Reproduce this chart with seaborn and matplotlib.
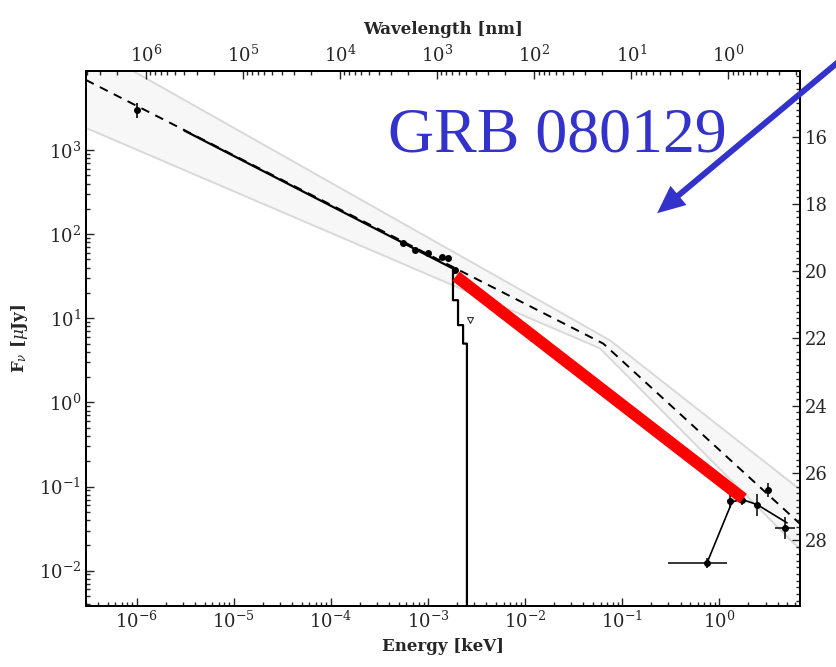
import numpy as np
import matplotlib
matplotlib.use("Agg")
import matplotlib.pyplot as plt
import seaborn as sns
from matplotlib.patches import FancyArrowPatch
from matplotlib.ticker import LogLocator, FixedLocator, NullFormatter, FuncFormatter

# ---------------- data ----------------
x_lim = [3.0e-7, 6.8]          # energy range [keV]
y_lim = [3.8e-3, 8.7e3]        # flux range [uJy]
hc_keV_nm = 1.2398             # wavelength[nm] = hc / E[keV]

model_E = [3.0e-7, 6.4e-2, 6.8]
model_F = [6800.0, 5.0, 0.036]

band_hi_E = [3.0e-7, 7.5e-2, 6.8]
band_hi_F = [18000.0, 5.47, 0.092]
band_lo_E = [3.0e-7, 5.9e-2, 6.8]
band_lo_F = [1830.0, 4.4, 0.0178]

absorbed_E = [3.1e-6, 1.81e-3, 1.81e-3, 2.04e-3, 2.04e-3, 2.3e-3, 2.3e-3, 2.52e-3, 2.52e-3]
absorbed_F = [1700.0, 39.0, 16.4, 16.4, 8.3, 8.3, 5.0, 5.0, 1.0e-3]

radio_E = [1.0e-6]
radio_F = [3000.0]
radio_Ferr_lo = [600.0]
radio_Ferr_hi = [650.0]

opt_E = [5.5e-4, 7.3e-4, 1.0e-3, 1.39e-3, 1.6e-3, 1.9e-3]
opt_F = [78.0, 65.0, 59.0, 53.0, 52.0, 37.0]
opt_Ferr = [5.0, 4.0, 4.0, 3.5, 3.5, 3.0]

ul_E = [2.7e-3]
ul_F = [9.5]

xr_E = [0.75, 1.3, 1.73, 2.46, 3.2, 4.8]
xr_E_lo = [0.30, 1.2, 1.6, 2.3, 3.0, 3.8]
xr_E_hi = [1.21, 1.4, 1.85, 2.65, 3.4, 6.1]
xr_F = [0.0124, 0.068, 0.070, 0.061, 0.090, 0.0325]
xr_F_lo = [0.0108, 0.055, 0.060, 0.045, 0.075, 0.024]
xr_F_hi = [0.0142, 0.085, 0.082, 0.082, 0.110, 0.043]

xmodel_E = [0.75, 1.36, 1.73, 2.46, 5.0]
xmodel_F = [0.0124, 0.066, 0.070, 0.061, 0.037]

red_E = [1.94e-3, 1.77]
red_F = [31.6, 0.072]

mag_ticks = [16, 18, 20, 22, 24, 26, 28]
title_text = "GRB 080129"

# ---------------- style ----------------
sns.set_style("ticks")
plt.rcParams['font.family'] = ['DejaVu Serif']
plt.rcParams['mathtext.fontset'] = 'dejavuserif'
plt.rcParams['axes.linewidth'] = 1.3
plt.rcParams['axes.edgecolor'] = 'black'

fig = plt.figure(figsize=(8.37, 6.67), dpi=100)
ax = fig.add_axes([86/837, 1 - 606/667, (800 - 86)/837, (606 - 71)/667])
ax.set_xscale('log')
ax.set_yscale('log')
ax.set_xlim(*x_lim)
ax.set_ylim(*y_lim)

# uncertainty band
ax.fill(np.concatenate([band_hi_E, band_lo_E[::-1]]),
        np.concatenate([band_hi_F, band_lo_F[::-1]]),
        facecolor='#f7f7f7', edgecolor='none', zorder=1)
sns.lineplot(x=band_hi_E, y=band_hi_F, ax=ax, color='#d9d9d9', lw=1.4,
             estimator=None, sort=False, zorder=2)
sns.lineplot(x=band_lo_E, y=band_lo_F, ax=ax, color='#d9d9d9', lw=1.4,
             estimator=None, sort=False, zorder=2)

# model (dashed) and absorbed model (solid)
sns.lineplot(x=model_E, y=model_F, ax=ax, color='black', lw=1.4,
             estimator=None, sort=False, zorder=3, dashes=False,
             linestyle=(0, (4.5, 3.5)))
sns.lineplot(x=absorbed_E, y=absorbed_F, ax=ax, color='black', lw=1.6,
             estimator=None, sort=False, zorder=4)
sns.lineplot(x=xmodel_E, y=xmodel_F, ax=ax, color='black', lw=1.2,
             estimator=None, sort=False, zorder=4)

# data points
ax.errorbar(radio_E, radio_F, yerr=[radio_Ferr_lo, radio_Ferr_hi], fmt='o',
            ms=4, color='black', elinewidth=1.2, capsize=0, zorder=5)
ax.errorbar(opt_E, opt_F, yerr=opt_Ferr, fmt='o', ms=4, color='black',
            elinewidth=1.2, capsize=0, zorder=5)
sns.scatterplot(x=ul_E, y=ul_F, ax=ax, marker='v', s=18, facecolor='white',
                edgecolor='#333333', linewidth=0.8, zorder=5)
xerr = [np.array(xr_E) - np.array(xr_E_lo), np.array(xr_E_hi) - np.array(xr_E)]
yerr = [np.array(xr_F) - np.array(xr_F_lo), np.array(xr_F_hi) - np.array(xr_F)]
ax.errorbar(xr_E, xr_F, xerr=xerr, yerr=yerr, fmt='o', ms=4, color='black',
            elinewidth=1.1, capsize=0, zorder=5)

# thick red line
sns.lineplot(x=red_E, y=red_F, ax=ax, color='#ff0000', lw=8.5,
             estimator=None, sort=False, zorder=6)
ax.get_lines()[-1].set_solid_capstyle('butt')

if ax.get_legend():
    ax.get_legend().remove()

# bottom / left axes
ax.tick_params(which='both', direction='in', top=False, right=False,
               labelsize=13, width=1.0)
ax.tick_params(which='major', length=6)
ax.tick_params(which='minor', length=3)
ax.xaxis.set_major_locator(LogLocator(base=10, numticks=20))
ax.xaxis.set_minor_locator(LogLocator(base=10, subs=np.arange(2, 10), numticks=20))
ax.yaxis.set_major_locator(LogLocator(base=10, numticks=20))
ax.yaxis.set_minor_locator(LogLocator(base=10, subs=np.arange(2, 10), numticks=20))
ax.xaxis.set_minor_formatter(NullFormatter())
ax.yaxis.set_minor_formatter(NullFormatter())
ax.set_xlabel('Energy [keV]', fontsize=12, fontweight='bold', labelpad=4)
ax.set_ylabel(r'F$_{\nu}$ [$\mu$Jy]', fontsize=12, fontweight='bold', labelpad=6)

# top axis: wavelength
axt = ax.twiny()
axt.set_xscale('log')
axt.set_xlim(hc_keV_nm / x_lim[0], hc_keV_nm / x_lim[1])
axt.xaxis.set_major_locator(LogLocator(base=10, numticks=20))
axt.xaxis.set_minor_locator(LogLocator(base=10, subs=np.arange(2, 10), numticks=20))
axt.xaxis.set_minor_formatter(NullFormatter())
axt.tick_params(which='both', direction='in', labelsize=13, width=1.0)
axt.tick_params(which='major', length=6)
axt.tick_params(which='minor', length=3)
axt.set_xlabel('Wavelength [nm]', fontsize=12, fontweight='bold', labelpad=8)

# right axis: AB magnitude
axr = ax.twinx()
axr.set_ylim(23.9 - 2.5 * np.log10(y_lim[0]), 23.9 - 2.5 * np.log10(y_lim[1]))
axr.yaxis.set_major_locator(FixedLocator(mag_ticks))
axr.yaxis.set_minor_locator(FixedLocator(np.arange(14.0, 30.01, 0.2)))
axr.yaxis.set_major_formatter(FuncFormatter(lambda v, p: f"{v:.0f}"))
axr.tick_params(which='both', direction='in', labelsize=13, width=1.0)
axr.tick_params(which='major', length=6)
axr.tick_params(which='minor', length=3)

for a in (ax, axt, axr):
    for s in a.spines.values():
        s.set_linewidth(1.3)

# annotation
fig.text(388/837, 1 - 152/667, title_text, fontsize=46, color='#3333cc',
         family='Liberation Serif', ha='left', va='baseline')
arrow = FancyArrowPatch((855/837, 1 - 48/667), (655/837, 1 - 215/667),
                        transform=fig.transFigure,
                        arrowstyle='simple,head_length=20,head_width=18,tail_width=4.3',
                        mutation_scale=1, color='#3333cc', lw=0, clip_on=False)
fig.patches.append(arrow)

fig.savefig('out.png', dpi=100)
